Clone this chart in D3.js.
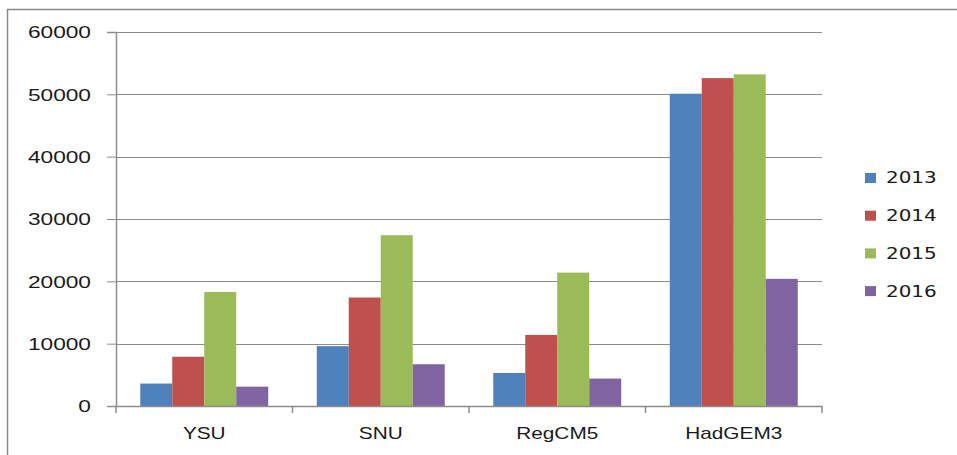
<!DOCTYPE html>
<html>
<head>
<meta charset="utf-8">
<script src="https://cdn.jsdelivr.net/npm/d3@7"></script>
<style>
  html, body { margin: 0; padding: 0; background: #fff; }
  svg { display: block; font-family: "DejaVu Sans", Verdana, sans-serif; }
</style>
</head>
<body>
<div class="bar-chart"></div>
<script>
// chart values
var categories = ['YSU', 'SNU', 'RegCM5', 'HadGEM3'];
var years = ['2013', '2014', '2015', '2016'];
var v2013 = [3600, 9600, 5300, 50100];
var v2014 = [7900, 17400, 11400, 52600];
var v2015 = [18300, 27400, 21400, 53200];
var v2016 = [3100, 6700, 4400, 20400];
var yTicks = [0, 10000, 20000, 30000, 40000, 50000, 60000];
var colors = ['#4F81BD', '#C0504D', '#9BBB59', '#8064A2'];

var series = [v2013, v2014, v2015, v2016];

var width = 957, height = 455;
var plotLeft = 116, plotRight = 822, plotTop = 32, plotBottom = 406;
var stretch = 1.3; // text in the picture is wide

var svg = d3.select('.bar-chart').append('svg')
    .attr('width', width).attr('height', height);

// outer frame
svg.append('path')
    .attr('d', 'M7.5,' + height + 'V9.5H' + width)
    .attr('fill', 'none').attr('stroke', '#8a8a8a').attr('stroke-width', 1.5);

var x0 = d3.scaleBand().domain(categories).range([plotLeft, plotRight])
    .paddingInner(0.275).paddingOuter(0.1375);
var x1 = d3.scaleBand().domain(years).range([0, x0.bandwidth()]);
var y = d3.scaleLinear().domain([0, 60000]).range([plotBottom, plotTop]);

// gridlines
svg.append('g').selectAll('line').data(yTicks.slice(1)).enter().append('line')
    .attr('x1', plotLeft).attr('x2', plotRight)
    .attr('y1', function(d) { return Math.round(y(d)) + 0.5; })
    .attr('y2', function(d) { return Math.round(y(d)) + 0.5; })
    .attr('stroke', '#8c8c8c').attr('stroke-width', 1);

// bars
var groups = svg.append('g').selectAll('g').data(categories).enter().append('g')
    .attr('transform', function(c) { return 'translate(' + x0(c) + ',0)'; });
groups.selectAll('rect').data(function(c, i) {
    return years.map(function(yr, j) { return { year: yr, value: series[j][i], color: colors[j] }; });
  }).enter().append('rect')
    .attr('x', function(d) { return x1(d.year); })
    .attr('width', x1.bandwidth())
    .attr('y', function(d) { return y(d.value); })
    .attr('height', function(d) { return plotBottom - y(d.value); })
    .attr('fill', function(d) { return d.color; });

// y axis
var yAxis = svg.append('g').attr('transform', 'translate(' + plotLeft + ',0)')
    .call(d3.axisLeft(y).tickValues(yTicks).tickSize(9).tickFormat(d3.format('d')));
yAxis.select('.domain').attr('stroke', '#8c8c8c').attr('stroke-width', 1.5);
yAxis.selectAll('.tick line').attr('stroke', '#8c8c8c');
yAxis.selectAll('.tick text').remove();
yAxis.selectAll('.tick').append('text')
    .attr('transform', 'translate(-25,0) scale(1.42,1)')
    .attr('text-anchor', 'end').attr('dy', '0.36em')
    .attr('fill', '#1a1a1a').style('font-size', '16px')
    .text(function(d) { return d; });

// x axis
var xAxis = svg.append('g').attr('transform', 'translate(0,' + plotBottom + ')')
    .call(d3.axisBottom(x0).tickSize(0));
xAxis.select('.domain').attr('stroke', '#8c8c8c').attr('stroke-width', 1.5);
xAxis.selectAll('.tick text').remove();
xAxis.selectAll('.tick').append('text')
    .attr('transform', 'translate(0,27) scale(' + stretch + ',1)')
    .attr('text-anchor', 'middle').attr('dy', '0.36em')
    .attr('fill', '#1a1a1a').style('font-size', '16px')
    .text(function(d) { return d; });
var edges = x0.domain().map(function(c) { return x0(c) - x0.step() * x0.paddingInner() / 2; });
edges.push(plotRight);
xAxis.selectAll('.edge').data(edges).enter().append('line')
    .attr('class', 'edge')
    .attr('x1', function(d) { return d; }).attr('x2', function(d) { return d; })
    .attr('y1', 0).attr('y2', 7)
    .attr('stroke', '#8c8c8c').attr('stroke-width', 1.5);

// legend
var legend = svg.append('g').selectAll('g').data(years).enter().append('g')
    .attr('transform', function(d, i) { return 'translate(865,' + (178 + i * 37.7) + ')'; });
legend.append('rect').attr('x', 0).attr('y', -5).attr('width', 11).attr('height', 10)
    .attr('fill', function(d, i) { return colors[i]; });
legend.append('text')
    .attr('transform', 'translate(21,0) scale(1.33,1)')
    .attr('dy', '0.36em').attr('fill', '#1a1a1a').style('font-size', '15px')
    .text(function(d) { return d; });
</script>
</body>
</html>
